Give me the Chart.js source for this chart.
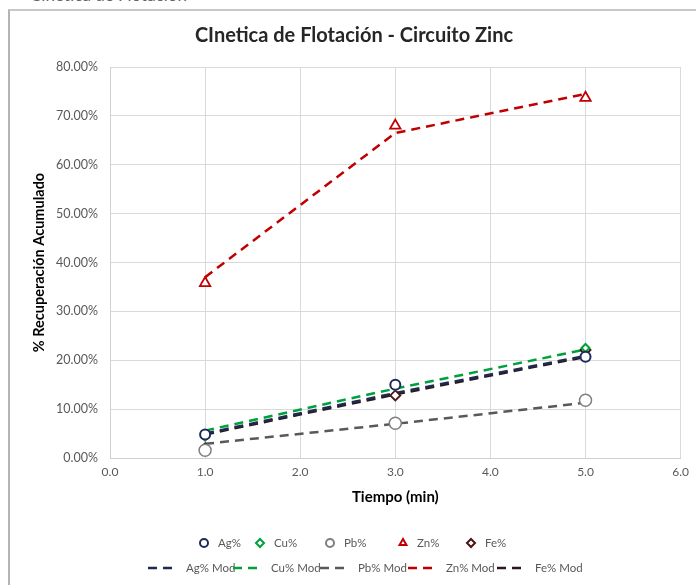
<!DOCTYPE html>
<html>
<head>
<meta charset="utf-8">
<script src="https://cdn.jsdelivr.net/npm/chart.js@4.4.1/dist/chart.umd.min.js"></script>
<style>
  html, body { margin: 0; padding: 0; background: #fff; }
  #wrap { position: relative; width: 696px; height: 585px; overflow: hidden; }
  #frame { position: absolute; left: 8px; top: 9px; right: -2px; bottom: -2px;
           border-left: 2px solid #b4b4b4; border-top: 2px solid #c8c8c8; }
  #cut { position: absolute; left: 30px; top: -16px; font: 17px Lato, sans-serif; color: #666; }
  canvas { position: absolute; left: 0; top: 0; }
</style>
</head>
<body>
<div id="wrap">
  <div id="cut">Cinética de Flotación</div>
  <div id="frame"></div>
  <canvas id="c" width="696" height="585"></canvas>
</div>
<script>
// tiempo (min) y % recuperación acumulada
const tiempo = [1, 3, 5];

const agPct = [4.8, 15.0, 20.7];
const cuPct = [4.4, 14.8, 22.5];
const pbPct = [1.6, 7.1, 11.8];
const znPct = [35.8, 68.0, 73.7];
const fePct = [2.0, 12.8, 22.1];

const agMod = [5.0, 13.3, 20.9];
const cuMod = [5.6, 14.2, 22.2];
const pbMod = [2.9, 7.0, 11.3];
const znMod = [37.0, 66.5, 74.5];
const feMod = [4.8, 13.0, 20.7];

const xTicks = [0, 1, 2, 3, 4, 5, 6];
const yTicks = [0, 10, 20, 30, 40, 50, 60, 70, 80];

const FONT = "Lato, 'Open Sans', sans-serif";

function pts(ys) {
    return tiempo.map((t, i) => ({ x: t, y: ys[i] }));
}

function marker(label, ys, color, style, r, bw) {
    return {
        label: label,
        data: pts(ys),
        showLine: false,
        pointStyle: style,
        pointRadius: r,
        pointBorderWidth: bw,
        borderColor: color,
        backgroundColor: "#ffffff",
        pointBackgroundColor: "#ffffff",
    };
}

function model(label, ys, color) {
    return {
        label: label,
        data: pts(ys),
        showLine: true,
        borderColor: color,
        backgroundColor: color,
        borderWidth: 2.5,
        borderDash: [9, 6],
        pointRadius: 0,
        tension: 0,
    };
}

const datasets = [
    marker("Ag%", agPct, "#1f2a5c", "circle", 5, 2),
    marker("Cu%", cuPct, "#00a13a", "rectRot", 4, 2),
    marker("Pb%", pbPct, "#7f7f7f", "circle", 6, 1.5),
    marker("Zn%", znPct, "#c00000", "triangle", 6, 1.8),
    marker("Fe%", fePct, "#4a1515", "rectRot", 5, 1.8),
    model("Ag% Mod", agMod, "#1f2a4f"),
    model("Cu% Mod", cuMod, "#00a03c"),
    model("Pb% Mod", pbMod, "#595959"),
    model("Zn% Mod", znMod, "#c00000"),
    model("Fe% Mod", feMod, "#2b1818"),
];

// legend in two rows of five, as in the Excel chart
const legendRow1X = [204, 260, 330, 403, 471];
const legendRow2X = [148, 233, 320, 408, 497];

const twoRowLegend = {
    id: "twoRowLegend",
    afterDraw(chart) {
        const ctx = chart.ctx;
        ctx.save();
        ctx.font = "11.5px " + FONT;
        ctx.fillStyle = "#595959";
        ctx.textBaseline = "middle";
        chart.data.datasets.forEach((ds, i) => {
            if (i < 5) {
                const x = legendRow1X[i], y = 543;
                ctx.save();
                ctx.strokeStyle = ds.borderColor;
                ctx.fillStyle = "#fff";
                ctx.lineWidth = 2;
                Chart.helpers.drawPoint(ctx, { pointStyle: ds.pointStyle, radius: 4, borderWidth: 2 }, x, y);
                ctx.restore();
                ctx.fillText(ds.label, x + 14, y);
            } else {
                const x = legendRow2X[i - 5], y = 568;
                ctx.save();
                ctx.strokeStyle = ds.borderColor;
                ctx.lineWidth = 2.5;
                ctx.setLineDash([9, 6]);
                ctx.beginPath();
                ctx.moveTo(x, y);
                ctx.lineTo(x + 30, y);
                ctx.stroke();
                ctx.restore();
                ctx.fillText(ds.label, x + 38, y);
            }
        });
        ctx.restore();
    },
};

new Chart(document.getElementById("c"), {
    type: "scatter",
    data: { datasets: datasets },
    plugins: [twoRowLegend],
    options: {
        responsive: false,
        animation: false,
        layout: { padding: { top: 24, left: 27, right: 15, bottom: 79 } },
        plugins: {
            legend: { display: false },
            tooltip: { enabled: false },
            title: {
                display: true,
                text: "CInetica de Flotación - Circuito Zinc",
                color: "#262626",
                font: { family: FONT, size: 20, weight: "bold" },
                padding: { top: 0, bottom: 19 },
            },
        },
        scales: {
            x: {
                type: "linear",
                min: 0,
                max: 6,
                afterBuildTicks: (s) => { s.ticks = xTicks.map((v) => ({ value: v })); },
                afterFit: (s) => { s.height = 48; },
                ticks: {
                    color: "#595959",
                    font: { family: FONT, size: 12 },
                    padding: 7,
                    callback: (v) => Number(v).toFixed(1),
                },
                grid: { color: "#d9d9d9", tickLength: 0, drawTicks: false },
                border: { color: "#d0d0d0" },
                title: {
                    display: true,
                    text: "Tiempo (min)",
                    color: "#000",
                    font: { family: FONT, size: 15, weight: "bold" },
                    padding: { top: 4, bottom: 0 },
                },
            },
            y: {
                min: 0,
                max: 80,
                afterBuildTicks: (s) => { s.ticks = yTicks.map((v) => ({ value: v })); },
                afterFit: (s) => { s.width = 83; },
                ticks: {
                    color: "#595959",
                    font: { family: FONT, size: 12.5 },
                    padding: 12,
                    callback: (v) => Number(v).toFixed(2) + "%",
                },
                grid: { color: "#d9d9d9", drawTicks: false },
                border: { color: "#d0d0d0" },
                title: {
                    display: true,
                    text: "% Recuperación Acumulado",
                    color: "#000",
                    font: { family: FONT, size: 14.5, weight: "bold" },
                    padding: { top: 4, bottom: 0 },
                },
            },
        },
    },
});
</script>
</body>
</html>
